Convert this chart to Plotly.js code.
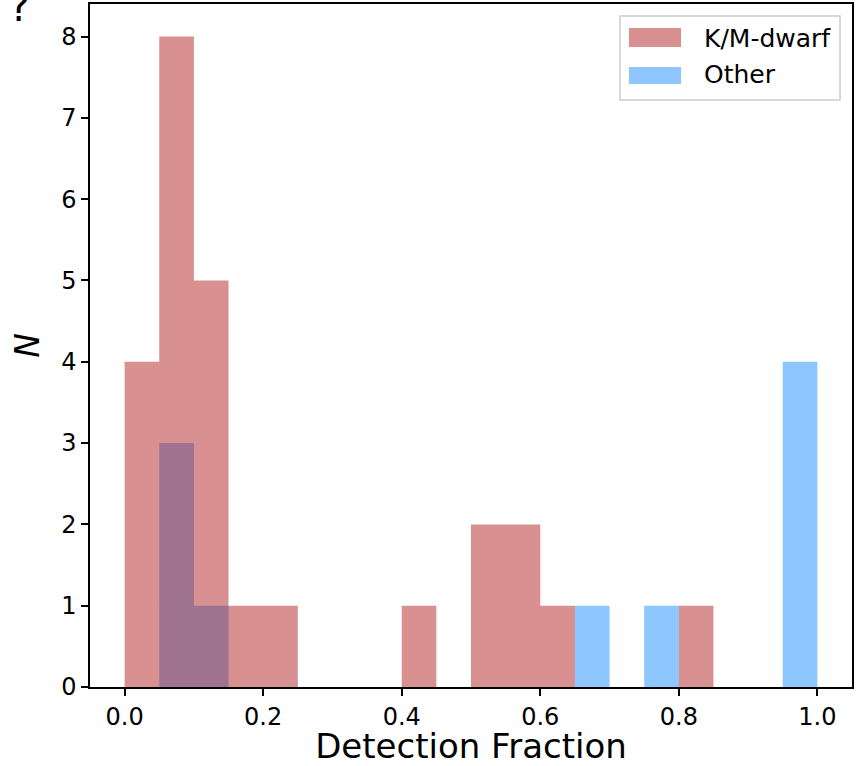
<!DOCTYPE html>
<html>
<head>
<meta charset="utf-8">
<script src="https://cdn.plot.ly/plotly-3.0.1.min.js"></script>
<style>html,body{margin:0;padding:0;background:#fff;}#chart{width:860px;height:766px;}</style>
</head>
<body>
<div id="chart"></div>
<script>
// Bin left edges (width 0.05) and histogram counts
const binEdges = [0.00,0.05,0.10,0.15,0.20,0.25,0.30,0.35,0.40,0.45,0.50,0.55,0.60,0.65,0.70,0.75,0.80,0.85,0.90,0.95];
const binEnd = 1.00;
const kmDwarfCounts = [4,8,5,1,1,0,0,0,1,0,2,2,1,0,0,0,1,0,0,0];
const otherCounts   = [0,3,1,0,0,0,0,0,0,0,0,0,0,1,0,1,0,0,0,4];
const seriesNames = ["K/M-dwarf","Other"];
const seriesColors = ["rgba(178,34,34,0.5)","rgba(30,144,255,0.5)"];
const xTicks = [0.0,0.2,0.4,0.6,0.8,1.0];

// step histogram: edges + last edge, counts + repeat last count
const stepX = binEdges.concat([binEnd]);
const stepY = c => c.concat([c[c.length-1]]);

const traceOther = {
  type: 'scatter', mode: 'lines', x: stepX, y: stepY(otherCounts),
  line: {shape: 'hv', width: 0, color: seriesColors[1]},
  fill: 'tozeroy', fillcolor: seriesColors[1],
  name: seriesNames[1], showlegend: false, hoverinfo: 'skip'
};
const traceKM = {
  type: 'scatter', mode: 'lines', x: stepX, y: stepY(kmDwarfCounts),
  line: {shape: 'hv', width: 0, color: seriesColors[0]},
  fill: 'tozeroy', fillcolor: seriesColors[0],
  name: seriesNames[0], showlegend: false, hoverinfo: 'skip'
};

// legend drawn as a box with wide colour patches (matplotlib-style)
const legendShapes = [
  {type: 'rect', xref: 'paper', yref: 'paper', x0: 0.6955, x1: 0.9843, y0: 0.8594, y1: 0.9824,
   fillcolor: 'rgba(255,255,255,0.8)', line: {color: '#cccccc', width: 1.5}, layer: 'above'},
  {type: 'rect', xref: 'paper', yref: 'paper', x0: 0.7073, x1: 0.7756, y0: 0.9370, y1: 0.9649,
   fillcolor: seriesColors[0], line: {width: 0}, layer: 'above'},
  {type: 'rect', xref: 'paper', yref: 'paper', x0: 0.7073, x1: 0.7756, y0: 0.8829, y1: 0.9078,
   fillcolor: seriesColors[1], line: {width: 0}, layer: 'above'}
];
const legendTexts = [
  {text: seriesNames[0], xref: 'paper', yref: 'paper', x: 0.8031, y: 0.9502,
   xanchor: 'left', yanchor: 'middle', showarrow: false, font: {size: 25, family: 'DejaVu Sans', color: '#000'}},
  {text: seriesNames[1], xref: 'paper', yref: 'paper', x: 0.8031, y: 0.8961,
   xanchor: 'left', yanchor: 'middle', showarrow: false, font: {size: 25, family: 'DejaVu Sans', color: '#000'}}
];

const layout = {
  width: 860, height: 766,
  margin: {l: 90, r: 8, t: 4, b: 79},
  paper_bgcolor: '#fff', plot_bgcolor: '#fff',
  font: {family: 'DejaVu Sans', color: '#000'},
  showlegend: false,
  xaxis: {
    range: [-0.05, 1.05], tickvals: xTicks, tickformat: '.1f',
    ticks: 'outside', ticklen: 7, tickwidth: 1.5, tickcolor: '#000',
    showline: true, linecolor: '#000', linewidth: 1.5, mirror: true,
    showgrid: false, zeroline: false,
    tickfont: {size: 24, family: 'DejaVu Sans'},
    title: {text: 'Detection Fraction', font: {size: 34, family: 'DejaVu Sans'}, standoff: 12}
  },
  yaxis: {
    range: [0, 8.4], dtick: 1,
    ticks: 'outside', ticklen: 7, tickwidth: 1.5, tickcolor: '#000',
    showline: true, linecolor: '#000', linewidth: 1.5, mirror: true,
    showgrid: false, zeroline: false,
    tickfont: {size: 24, family: 'DejaVu Sans'},
    title: {text: '<i>N</i>', font: {size: 33, family: 'DejaVu Sans'}, standoff: 12}
  },
  shapes: legendShapes,
  annotations: legendTexts.concat([{
    text: '?', xref: 'paper', yref: 'paper', x: -0.093, y: 0.959,
    xanchor: 'center', yanchor: 'bottom', showarrow: false,
    font: {size: 40, family: 'DejaVu Sans', color: '#000'}
  }])
};

Plotly.newPlot('chart', [traceOther, traceKM], layout, {displayModeBar: false});
</script>
</body>
</html>
